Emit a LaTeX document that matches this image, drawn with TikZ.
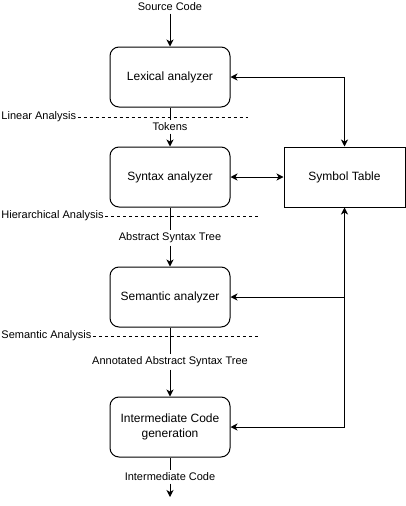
\documentclass[tikz,border=0pt]{standalone}
\usepackage{fontspec}
\setmainfont{Liberation Sans}
\usetikzlibrary{arrows.meta}

\tikzset{
	phase/.style={draw, rounded corners=9pt, minimum width=120pt, minimum height=60pt, inner sep=0pt, align=center, font=\fontsize{12}{15}\selectfont},
	symtab/.style={draw, minimum width=121pt, minimum height=60pt, inner sep=0pt, font=\fontsize{12}{15}\selectfont},
	lbl/.style={inner sep=2pt, font=\fontsize{11}{13}\selectfont},
	sep/.style={dash pattern=on 3pt off 3pt},
	tip/.tip={Stealth[length=7pt,width=7pt,inset=2pt]},
}

\begin{document}
\begin{tikzpicture}[x=1pt,y=-1pt,line width=1pt]
	\useasboundingbox (0,0) rectangle (406,506);
	\node[phase] (lex) at (170,77) {Lexical analyzer};
	\node[phase] (syn) at (170,177) {Syntax analyzer};
	\node[phase] (sem) at (170,297) {Semantic analyzer};
	\node[phase] (icg) at (170,427) {Intermediate Code\\generation};
	\node[symtab] (tab) at (344.5,177) {Symbol Table};
	\node[lbl] (src) at (170,7) {Source Code};
	\node[lbl] (tok) at (170,127) {Tokens};
	\node[lbl] (ast) at (170,238) {Abstract Syntax Tree};
	\node[lbl] (aast) at (170,362) {Annotated Abstract Syntax Tree};
	\node[lbl] (ic) at (170,477) {Intermediate Code};
	\coordinate (out) at (170,497);
	\node[lbl,inner sep=1pt,anchor=west] (lin) at (0,117) {Linear Analysis};
	\node[lbl,inner sep=1pt,anchor=west] (hier) at (0,216) {Hierarchical Analysis};
	\node[lbl,inner sep=1pt,anchor=west] (semA) at (0,336) {Semantic Analysis};
	\coordinate (linE) at (248,117);
	\coordinate (hierE) at (258,216);
	\coordinate (semE) at (258,336);
	\coordinate (jn) at (icg.east -| tab.south);
	\draw[-tip](src)--(lex);
	\draw(lex)--(tok);
	\draw[-tip](tok)--(syn);
	\draw(syn)--(ast);
	\draw[-tip](ast)--(sem);
	\draw(sem)--(aast);
	\draw[-tip](aast)--(icg);
	\draw(icg)--(ic);
	\draw[-tip](ic)--(out);
	\draw[sep](lin.east)--(linE);
	\draw[sep](hier.east)--(hierE);
	\draw[sep](semA.east)--(semE);
	\draw[tip-tip](lex.east)--(lex.east -| tab.north)--(tab.north);
	\draw[tip-tip](syn)--(tab);
	\draw[-tip](jn)--(tab.south);
	\draw[-tip](jn)--(icg.east);
	\draw[-tip](sem.east -| jn)--(sem.east);
\end{tikzpicture}
\end{document}
